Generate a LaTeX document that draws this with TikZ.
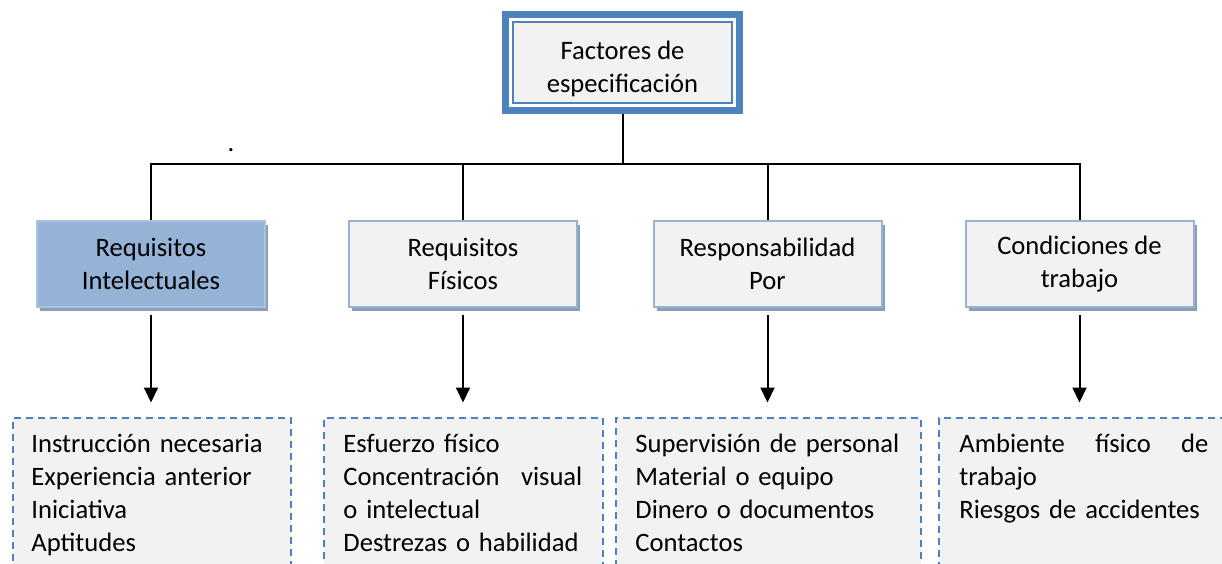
\documentclass[tikz,border=0pt]{standalone}
\usepackage{fontspec}
\setmainfont{Carlito}
\usetikzlibrary{arrows.meta,shadows,positioning}

\definecolor{azulosc}{HTML}{4F81BD}
\definecolor{azulcl}{HTML}{95B3D7}
\definecolor{bordecl}{HTML}{A9C2E0}
\definecolor{grisfondo}{HTML}{F2F2F2}
\definecolor{sombra}{HTML}{8C9DB4}

\tikzset{
    titulo/.style={draw=azulosc, line width=0.7pt, fill=grisfondo, minimum width=109.5pt, minimum height=40.5pt,
        inner sep=0pt, align=center},
    marco/.style={draw=azulosc, line width=3.5pt},
    caja/.style={draw=azulcl, line width=1pt, fill=grisfondo, minimum width=114pt, minimum height=43pt,
        inner sep=0pt, align=center,
        drop shadow={shadow xshift=1.5pt, shadow yshift=-2pt, fill=sombra, opacity=1}},
    lista/.style={draw=azulosc, line width=1pt, dash pattern=on 3.5pt off 2.5pt, fill=grisfondo,
        anchor=north west, minimum height=92pt, inner sep=0pt},
    texto/.style={align=left, inner sep=0pt},
    rama/.style={line width=1pt},
    flecha/.style={line width=1pt, -{Triangle[length=7.5pt,width=7pt]}, shorten <=3.5pt, shorten >=7pt}
}

\begin{document}
\begin{tikzpicture}[x=0.5pt,y=-0.5pt,font=\fontsize{13.3}{16.5}\selectfont]
    \useasboundingbox (0,0) rectangle (1222,563);

    %%%%%%%%%% Titulo %%%%%%%%%%
    \node[titulo] (factores) at (622.5,62.5) {\rule{0pt}{16pt}Factores de\\especificación};
    \draw[marco] ([shift={(-6.5,6.5)}]factores.south west) rectangle ([shift={(6.5,-6.5)}]factores.north east);

    %%%%%%%%%% Requisitos %%%%%%%%%%
    \node[caja, fill=azulcl, draw=bordecl] (intelectuales) at (151,264) {Requisitos\\Intelectuales};
    \node[caja] (fisicos) at (463,264) {Requisitos\\Físicos};
    \node[caja] (responsabilidad) at (767.5,264) {Responsabilidad\\Por};
    \node[caja] (condiciones) at (1079.5,264) {Condiciones de\\trabajo};

    %%%%%%%%%% Listas %%%%%%%%%%
    \node[lista, minimum width=139pt] (lintelectuales) at (12,416.5) {};
    \node[lista, minimum width=139.5pt] (lfisicos) at (323,416.5) {};
    \node[lista, minimum width=152.5pt] (lresponsabilidad) at (615,416.5) {};
    \node[lista, minimum width=155pt] (lcondiciones) at (938,416.5) {};

    \node[texto, text width=135pt, below right=8.5pt and 9.5pt of lintelectuales.north west] (tintelectuales)
        {Instrucción necesaria\\Experiencia anterior\\Iniciativa\\Aptitudes};
    \node[texto, text width=119.5pt, below right=8.5pt and 10pt of lfisicos.north west] (tfisicos)
        {Esfuerzo físico\\Concentración\hfill visual\\o intelectual\\Destrezas o habilidad};
    \node[texto, text width=140pt, below right=8.5pt and 10pt of lresponsabilidad.north west] (tresponsabilidad)
        {Supervisión de personal\\Material o equipo\\Dinero o documentos\\Contactos};
    \node[texto, text width=124.5pt, below right=8.5pt and 10.5pt of lcondiciones.north west] (tcondiciones)
        {Ambiente\hfill físico\hfill de\\trabajo\\Riesgos de accidentes};

    \node[inner sep=0pt] (punto) at (231,150) {.};

    %%%%%%%%%% Conexiones %%%%%%%%%%
    \coordinate (bus) at (622.5,164);
    \draw[rama, shorten <=5pt] (factores) -- (bus);
    \draw[rama] (intelectuales.north) |- (bus) -| (condiciones.north);
    \draw[rama] (fisicos.north) -- (fisicos |- bus);
    \draw[rama] (responsabilidad.north) -- (responsabilidad |- bus);

    \foreach \a/\b in {intelectuales/lintelectuales, fisicos/lfisicos, responsabilidad/lresponsabilidad, condiciones/lcondiciones}
        \draw[flecha] (\a.south) -- (\a.south |- \b.north);
\end{tikzpicture}
\end{document}
